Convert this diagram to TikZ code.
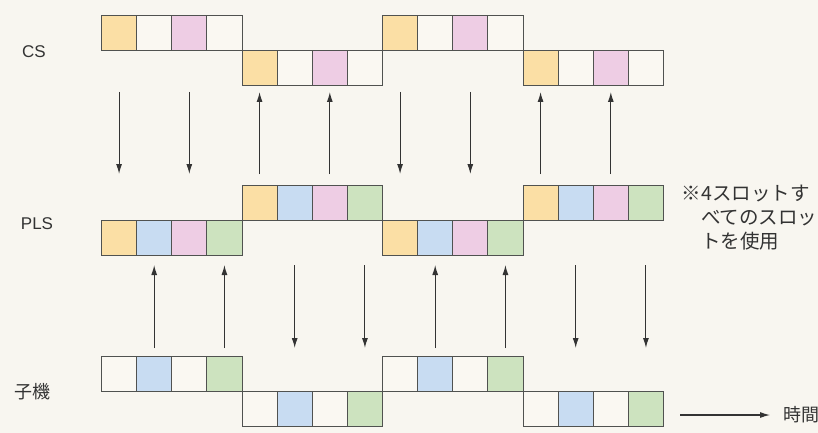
\documentclass[tikz,border=0pt]{standalone}
\usepackage{fontspec}
\setmainfont{Liberation Sans}
\newfontfamily\jp{Noto Sans CJK JP}
\usetikzlibrary{arrows.meta}
\definecolor{bg}{HTML}{F8F6F0}
\definecolor{cO}{HTML}{FBDFA5}
\definecolor{cP}{HTML}{EECDE4}
\definecolor{cB}{HTML}{C8DCF2}
\definecolor{cG}{HTML}{CDE3BF}
\definecolor{cW}{HTML}{FAF8F2}
\definecolor{ln}{HTML}{505250}
\definecolor{tx}{HTML}{333333}
\begin{document}
\begin{tikzpicture}[x=1pt,y=-1pt,
  slot/.style={draw=ln,line width=0.9pt,minimum width=35.125pt,minimum height=35pt,inner sep=0pt,outer sep=0pt,anchor=north west},
  sig/.style={draw=tx,line width=1.1pt,-{Latex[length=10pt,width=6pt]}},
  lbl/.style={text=tx,inner sep=0pt,font=\fontsize{17}{20}\selectfont},
  jlbl/.style={text=tx,inner sep=0pt,font=\jp\fontsize{18}{24.5}\selectfont}]
\fill[bg] (0,0) rectangle (818,433);
\useasboundingbox (0,0) rectangle (818,433);
% slots
\foreach \g in {0,1,2,3}{
  \pgfmathsetmacro{\gx}{101.5+140.5*\g}
  \pgfmathsetmacro{\csy}{mod(\g,2)==0 ? 15 : 50}
  \pgfmathsetmacro{\ply}{mod(\g,2)==0 ? 220 : 185}
  \pgfmathsetmacro{\chy}{mod(\g,2)==0 ? 356 : 391}
  \foreach \s/\c in {0/cO,1/cW,2/cP,3/cW}
    \node[slot,fill=\c] (cs\g\s) at ({\gx+35.125*\s},\csy) {};
  \foreach \s/\c in {0/cO,1/cB,2/cP,3/cG}
    \node[slot,fill=\c] (pl\g\s) at ({\gx+35.125*\s},\ply) {};
  \foreach \s/\c in {0/cW,1/cB,2/cW,3/cG}
    \node[slot,fill=\c] (ch\g\s) at ({\gx+35.125*\s},\chy) {};
}
% arrow levels
\coordinate (ya) at (0,92);
\coordinate (yb) at (0,174);
\coordinate (yc) at (0,265);
\coordinate (yd) at (0,348);
\foreach \g in {0,2}{\foreach \s in {0,2}{\draw[sig] (cs\g\s |- ya) -- (cs\g\s |- yb);}}
\foreach \g in {1,3}{\foreach \s in {0,2}{\draw[sig] (cs\g\s |- yb) -- (cs\g\s |- ya);}}
\foreach \g in {0,2}{\foreach \s in {1,3}{\draw[sig] (ch\g\s |- yd) -- (ch\g\s |- yc);}}
\foreach \g in {1,3}{\foreach \s in {1,3}{\draw[sig] (ch\g\s |- yc) -- (ch\g\s |- yd);}}
% labels
\node[lbl] (lcs) at (34,52) {CS};
\node[lbl] (lpl) at (37,224) {PLS};
\node[jlbl] (lch) at (32,392) {子機};
\node[jlbl,font=\jp\fontsize{19.5}{24}\selectfont,align=left,anchor=north west] (note) at (701,185) {\llap{※}4スロットす\\べてのスロッ\\トを使用};
\node[jlbl,anchor=west] (time) at (783,415) {時間};
\coordinate (t0) at (680,415);
\draw[sig] (t0) -- ([xshift=-13pt]time.west);
\end{tikzpicture}
\end{document}
